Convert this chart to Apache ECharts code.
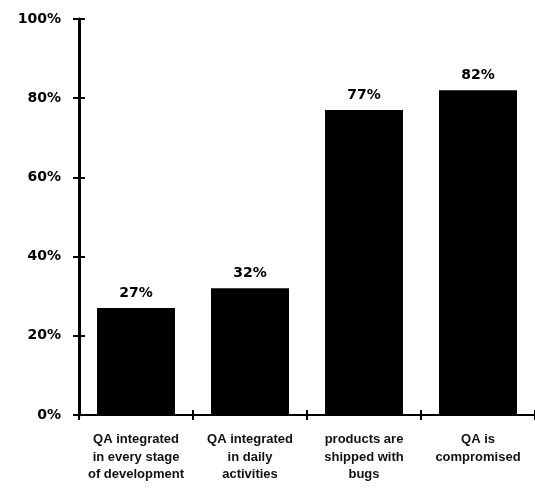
<!DOCTYPE html>
<html>
<head>
<meta charset="utf-8">
<script src="https://cdn.jsdelivr.net/npm/echarts@6/dist/echarts.min.js"></script>
<style>
  html, body { margin: 0; padding: 0; background: #ffffff; }
  #chart { width: 535px; height: 498px; }
</style>
</head>
<body>
<div id="chart"></div>
<script>
// data
const categories = [
  "QA integrated\nin every stage\nof development",
  "QA integrated\nin daily\nactivities",
  "products are\nshipped with\nbugs",
  "QA is\ncompromised"
];
const values = [27, 32, 77, 82];
const yMin = 0;
const yMax = 100;
const yStep = 20;

const chart = echarts.init(document.getElementById("chart"));

const tickFont = {
  color: "#000",
  fontFamily: "DejaVu Sans",
  fontWeight: "bold",
  fontSize: 14
};

let option = {
  animation: false,
  grid: {
    left: 79,
    top: 19,
    width: 456,
    height: 396
  },
  xAxis: [
    {
      type: "category",
      data: categories,
      axisLine: { lineStyle: { color: "#000", width: 2 } },
      axisTick: { show: false },
      axisLabel: {
        color: "#111",
        fontFamily: "Liberation Sans",
        fontWeight: "bold",
        fontSize: 13,
        lineHeight: 17.5,
        margin: 16,
        interval: 0
      }
    },
    {
      // ticks that cross the axis line
      type: "category",
      data: categories,
      position: "bottom",
      offset: -5,
      axisLine: { show: false },
      axisTick: { show: true, length: 10, lineStyle: { color: "#000", width: 2 } },
      axisLabel: { show: false }
    }
  ],
  yAxis: [
    {
      type: "value",
      min: yMin,
      max: yMax,
      interval: yStep,
      splitLine: { show: false },
      axisLine: { show: true, lineStyle: { color: "#000", width: 3 } },
      axisTick: { show: false },
      axisLabel: Object.assign({ formatter: "{value}%", margin: 18 }, tickFont)
    },
    {
      type: "value",
      min: yMin,
      max: yMax,
      interval: yStep,
      position: "left",
      offset: -6,
      splitLine: { show: false },
      axisLine: { show: false },
      axisTick: { show: true, length: 12, lineStyle: { color: "#000", width: 2 } },
      axisLabel: { show: false }
    }
  ],
  series: [
    {
      type: "bar",
      xAxisIndex: 0,
      yAxisIndex: 0,
      data: values,
      barWidth: 78,
      itemStyle: { color: "#000" },
      label: Object.assign({
        show: true,
        position: "top",
        distance: 8,
        formatter: "{c}%"
      }, tickFont)
    }
  ]
};

chart.setOption(option);
</script>
</body>
</html>
